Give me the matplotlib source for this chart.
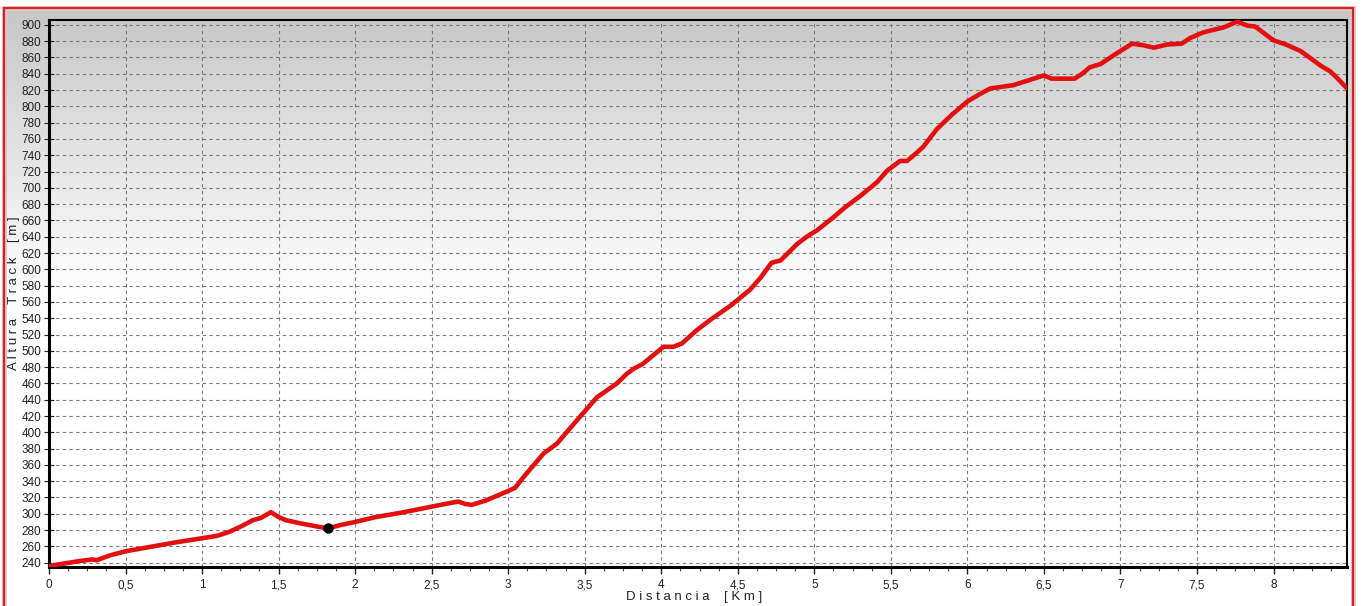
import numpy as np
import matplotlib
matplotlib.use('Agg')
import matplotlib.pyplot as plt
from matplotlib.patches import Rectangle
from matplotlib.ticker import MultipleLocator, FuncFormatter

# Perfil del track: distancia (km) y altura (m)
dist = [0, 0.1, 0.2, 0.284, 0.31, 0.4, 0.5, 0.65, 0.83, 1.0, 1.1, 1.18, 1.26, 1.33,
        1.385, 1.45, 1.5, 1.55, 1.65, 1.82, 1.9, 2.0, 2.135, 2.29, 2.4, 2.505, 2.615,
        2.675, 2.72, 2.763, 2.85, 2.95, 3.0, 3.046, 3.1, 3.231, 3.318, 3.45, 3.58,
        3.71, 3.776, 3.82, 3.88, 3.95, 4.015, 4.08, 4.135, 4.23, 4.32, 4.45, 4.58,
        4.65, 4.72, 4.78, 4.887, 4.95, 5.018, 5.126, 5.2, 5.30, 5.41, 5.475, 5.56,
        5.605, 5.65, 5.71, 5.80, 5.9, 6.0, 6.08, 6.15, 6.3, 6.4, 6.5, 6.55, 6.7, 6.75,
        6.8, 6.87, 6.95, 7.076, 7.15, 7.218, 7.305, 7.40, 7.456, 7.544, 7.675, 7.763,
        7.83, 7.88, 8.0, 8.08, 8.176, 8.25, 8.307, 8.37, 8.42, 8.48]
alt = [236, 239, 242, 244, 243, 249, 254, 259, 265, 270, 273, 278, 285, 292,
       295, 302, 296, 292, 288, 282, 286, 290, 296, 301, 305, 309, 313,
       315, 312, 311, 316, 324, 328, 332, 345, 374, 386, 415, 443,
       460, 472, 478, 484, 495, 505, 505, 509, 525, 538, 555, 575,
       590, 608, 611, 631, 640, 648, 664, 676, 690, 707, 721, 733,
       733, 740, 750, 772, 790, 806, 815, 822, 826, 832, 838, 834, 834, 840,
       848, 852, 862, 877, 875, 872, 876, 877, 884, 891, 897, 904,
       899, 898, 881, 876, 868, 858, 850, 843, 834, 822]

# posicion actual marcada en el track
marker_dist = [1.82]
marker_alt = [282]

plt.rcParams['font.family'] = ['Liberation Sans', 'DejaVu Sans']

W, H = 1362, 606
fig = plt.figure(figsize=(W / 100, H / 100), dpi=100)
fig.patch.set_facecolor('white')

# fondo degradado gris -> blanco dentro del marco
bg = fig.add_axes([4 / W, 0, 1349 / W, 1 - 8 / H], zorder=-5)
g = np.linspace(0.0, 1.0, 600)
shade = 0.78 + 0.22 * np.clip(g / 0.48, 0, 1)
rgb = np.repeat(np.repeat(shade[:, None, None], 2, axis=1), 3, axis=2)
bg.imshow(rgb, aspect='auto', origin='upper', extent=[0, 1, 0, 1],
          interpolation='bilinear')
bg.set_axis_off()

# marco rojo
fig.patches.append(Rectangle((4 / W, -0.01), 1349 / W, 1 - 8 / H + 0.01,
                             transform=fig.transFigure, fill=False,
                             edgecolor='#f4c0c0', lw=3.5, zorder=10))
fig.patches.append(Rectangle((4 / W, -0.01), 1349 / W, 1 - 8 / H + 0.01,
                             transform=fig.transFigure, fill=False,
                             edgecolor='#c8282c', lw=1.6, zorder=11))

ax = fig.add_axes([49 / W, 1 - 567 / H, 1298 / W, 547 / H])
ax.set_facecolor('none')

ax.plot(dist, alt, color='#e3100f', lw=3.3, solid_capstyle='round',
        solid_joinstyle='round', zorder=3)
ax.plot(marker_dist, marker_alt, 'o', color='black', ms=6.5, zorder=4)

ax.set_xlim(0, 8.48)
ax.set_ylim(234.7, 906)

ax.xaxis.set_major_locator(MultipleLocator(0.5))
ax.xaxis.set_minor_locator(MultipleLocator(0.125))
ax.yaxis.set_major_locator(MultipleLocator(20))
fmt = FuncFormatter(lambda v, p: ('%g' % v).replace('.', ','))
ax.xaxis.set_major_formatter(fmt)

ax.grid(True, which='major', color='#7a7a7a', linestyle=(0, (3, 3)), lw=0.8)
ax.tick_params(axis='x', which='major', direction='out', length=5, width=1,
               labelsize=8.5, pad=4, colors='#222222')
ax.tick_params(axis='x', which='minor', direction='out', length=3, width=0.8,
               colors='#555555')
ax.tick_params(axis='y', which='major', direction='inout', length=7, width=0.8,
               labelsize=8.5, pad=2, colors='#222222')

for side in ['left', 'bottom']:
    ax.spines[side].set_linewidth(2.2)
for side in ['top', 'right']:
    ax.spines[side].set_linewidth(1.5)

ax.set_xlabel('D i s t a n c i a    [ K m ]', fontsize=9.5, color='#222222')
ax.set_ylabel('A l t u r a    T r a c k    [ m ]', fontsize=9.5, color='#222222')
ax.xaxis.label.set_va('center')
ax.yaxis.label.set_va('center')
ax.xaxis.set_label_coords(0.497, -0.055)
ax.yaxis.set_label_coords(-0.027, 0.5)

fig.savefig('out.png', dpi=100)
